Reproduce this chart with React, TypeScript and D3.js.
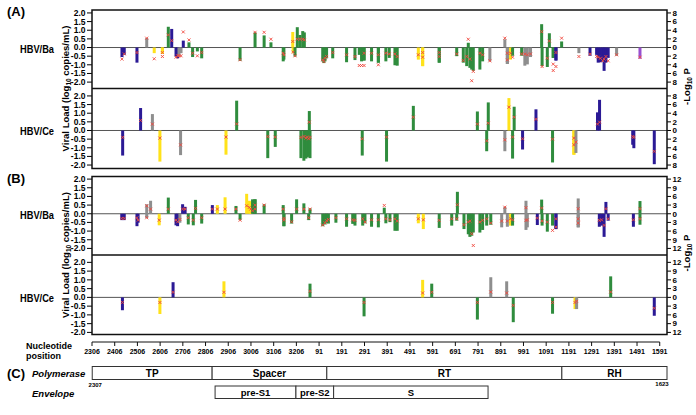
import React from "react";
import * as d3 from "d3";

type Row = [number, number, number, string]; // [nucleotide, signed -log10 P, viral load diff, category]

// Panel A, HBV/Ba
const aBa: Row[] = [
  [2438, -2.2, -0.67, "b"], [2448, -1.7, -0.37, "b"], [2504, -3.5, -0.29, "b"], [2547, 2.2, 0.54, "k"],
  [2580, -1.3, -0.65, "y"], [2616, -1.5, -0.29, "y"], [2616, -1.5, -0.52, "y"], [2642, 4.8, 0.73, "g"],
  [2657, 4.3, 0.4, "b"], [2676, -2.1, -0.56, "b"], [2683, -2.5, -0.48, "b"], [2689, -2.1, -0.48, "k"],
  [2698, -1.3, -0.48, "k"], [2708, 1.6, 0.9, "b"], [2733, 1.2, 0.44, "g"], [2749, -2.2, -0.33, "g"],
  [2770, -0.9, -0.48, "g"], [2789, -2.5, -0.29, "g"], [2958, -3.1, -0.71, "g"], [3024, 3.5, 0.88, "g"],
  [3064, 2.8, 0.88, "g"], [3094, 1.2, 0.48, "g"], [3148, -3.2, -0.33, "g"], [3151, -2.8, -0.42, "g"],
  [3190, 3.6, 0.35, "y"], [3192, -1.3, -0.27, "y"], [3200, -2.1, -0.48, "g"], [3210, 4.7, 0.48, "g"],
  [7, 2.9, 0.48, "g"], [19, 3.8, 0.48, "g"], [26, 3.5, 0.44, "g"], [107, -3.2, -0.71, "g"],
  [112, -3.6, -0.81, "g"], [117, -3.2, -0.62, "g"], [124, -2.5, -0.52, "g"], [151, -2.5, -0.29, "g"],
  [212, -3.4, -0.42, "g"], [249, -2.9, -0.52, "g"], [268, -1.7, -1.04, "g"], [278, -3.2, -1.04, "g"],
  [289, -3.0, -1.04, "g"], [289, -3.0, -0.33, "g"], [322, -3.2, -0.33, "g"], [352, -3.5, -1.0, "g"],
  [352, -3.5, -0.42, "g"], [385, -3.2, -0.33, "g"], [400, -2.4, -0.37, "g"], [425, -4.1, -0.37, "g"],
  [435, -4.2, -0.52, "g"], [528, -2.8, -0.42, "y"], [547, -4.3, -0.29, "y"], [547, -4.3, -0.56, "y"],
  [620, -3.5, -0.29, "g"], [620, -3.5, -0.52, "g"], [697, -2.0, -0.37, "g"], [726, -3.5, -0.75, "g"],
  [741, -4.3, -0.52, "g"], [748, 1.1, 0.48, "g"], [755, -4.7, -0.67, "g"], [763, -5.1, -1.92, "g"],
  [770, -5.4, -1.38, "g"], [799, -5.1, -0.33, "g"], [811, -3.2, -0.42, "g"], [843, -3.2, -0.77, "k"],
  [909, 1.9, 0.54, "k"], [920, -3.8, -0.33, "k"], [920, -3.8, -0.71, "k"], [934, -2.8, -0.33, "y"],
  [943, -1.9, -0.56, "g"], [983, -1.9, -0.37, "g"], [997, -4.2, -0.38, "k"], [1008, -3.9, -0.42, "k"],
  [1022, -2.2, -0.37, "k"], [1071, 5.4, 0.92, "g"], [1073, -4.3, -1.1, "g"], [1096, -4.5, -0.62, "g"],
  [1105, 3.3, 0.38, "g"], [1122, -2.4, -0.96, "g"], [1122, -2.4, -1.33, "g"], [1134, -3.0, -0.29, "b"],
  [1134, -3.0, -1.1, "b"], [1159, 1.4, 0.54, "g"], [1235, -1.3, -0.52, "k"], [1284, -1.9, -0.38, "b"],
  [1313, -1.7, -0.52, "b"], [1320, -3.5, -0.56, "b"], [1330, -3.4, -0.62, "b"], [1340, -3.2, -0.77, "b"],
  [1346, -5.4, -0.67, "b"], [1354, -3.5, -0.52, "b"], [1364, -2.4, -0.77, "b"], [1401, -1.9, -0.42, "k"],
  [1504, -2.6, -0.56, "p"],
];

// Panel A, HBV/Ce
const aCe: Row[] = [
  [2441, -5.8, -0.4, "b"], [2520, 5.2, 0.58, "b"], [2572, 3.8, 0.37, "k"], [2605, -7.2, -0.44, "y"],
  [2696, -5.7, -0.83, "k"], [2896, -5.6, -0.38, "y"], [2943, 6.9, 0.38, "g"], [3080, -6.4, -0.35, "g"],
  [3113, -3.8, -0.38, "g"], [11, -6.4, -0.4, "g"], [24, -7.0, -0.35, "g"], [33, -6.5, -0.44, "g"],
  [39, -6.2, -0.38, "g"], [45, -6.0, -0.48, "g"], [51, -6.4, -0.4, "g"], [48, 4.5, 0.48, "g"],
  [281, -5.8, -0.48, "g"], [388, -7.2, -0.38, "g"], [506, 5.7, 0.77, "g"], [788, 4.4, 0.37, "g"],
  [829, -4.8, -0.6, "g"], [836, 6.5, 0.42, "g"], [909, -4.8, -0.54, "k"], [927, 7.5, 1.35, "y"],
  [943, -6.5, -0.38, "g"], [950, 5.5, 0.77, "g"], [987, -4.4, -0.48, "b"], [1046, 4.9, 0.65, "b"],
  [1119, -7.4, -0.5, "g"], [1213, -5.6, -0.44, "y"], [1213, -5.6, -0.83, "y"], [1222, -5.2, -0.67, "k"],
  [1317, 4.2, 0.37, "b"], [1326, 7.1, 0.48, "b"], [1472, -3.3, -0.35, "b"], [1477, -4.1, -0.4, "b"],
  [1567, -7.8, -1.21, "b"],
];

// Panel B, HBV/Ba
const bBa: Row[] = [
  [2437, -2.2, -0.27, "b"], [2448, -2.2, -0.27, "b"], [2504, -4.3, -0.23, "b"], [2509, -3.1, -0.37, "b"],
  [2547, 3.3, 0.46, "k"], [2547, -1.5, -0.23, "k"], [2564, 4.5, 0.27, "k"], [2602, -4.0, -0.37, "y"],
  [2642, 5.6, 0.27, "g"], [2676, -4.0, -0.37, "b"], [2683, -4.3, -0.46, "b"], [2693, -3.1, -0.33, "k"],
  [2705, 3.3, 0.27, "b"], [2716, 2.4, 0.27, "b"], [2730, -3.7, -0.23, "g"], [2752, -4.0, -0.37, "g"],
  [2762, 4.8, 0.31, "g"], [2789, -3.4, -0.23, "g"], [2836, 3.0, 0.27, "b"], [2858, 3.0, 0.27, "y"],
  [2892, 5.7, 0.27, "y"], [2940, 2.7, 0.27, "g"], [2958, -2.2, -0.37, "g"], [2987, 6.9, 0.46, "y"],
  [2999, 4.5, 0.37, "y"], [3005, 4.0, 0.27, "y"], [3013, 5.0, 0.17, "g"], [3024, 5.0, 0.27, "g"],
  [3024, 5.0, 0.5, "g"], [3064, 3.3, 0.5, "g"], [3148, 3.0, 0.27, "g"], [3151, -4.3, -0.37, "g"],
  [3151, -4.3, -0.27, "g"], [3185, -3.4, -0.46, "g"], [3207, 5.0, 0.27, "g"], [24, 3.6, 0.27, "g"],
  [45, -2.2, -0.23, "g"], [51, 1.9, 0.27, "g"], [107, -4.3, -0.65, "g"], [117, -3.7, -0.52, "g"],
  [124, -3.1, -0.4, "g"], [132, -3.4, -0.33, "g"], [165, -3.1, -0.23, "g"], [212, -4.5, -0.29, "g"],
  [239, -3.5, -0.35, "g"], [249, -4.1, -0.38, "g"], [283, -4.1, -0.29, "g"], [293, -3.3, -0.48, "g"],
  [322, -4.5, -0.35, "g"], [352, -4.7, -0.35, "g"], [378, 2.1, 0.48, "g"], [385, -3.3, -0.29, "g"],
  [403, -2.9, -0.35, "g"], [425, -5.9, -0.29, "g"], [435, -5.9, -0.42, "g"], [528, -3.3, -0.29, "y"],
  [550, -5.3, -0.35, "y"], [620, -4.9, -0.38, "g"], [675, -4.1, -0.29, "g"], [697, -2.4, -0.29, "g"],
  [700, 7.6, 0.52, "g"], [729, -5.3, -0.63, "g"], [748, -7.1, -0.48, "g"], [755, -8.0, -0.42, "g"],
  [763, -7.6, -1.15, "g"], [770, -6.5, -1.83, "g"], [799, -6.5, -0.48, "g"], [811, -5.6, -0.38, "g"],
  [829, -4.1, -0.29, "g"], [847, -3.8, -0.54, "g"], [895, -4.7, -0.42, "k"], [909, 2.4, 0.38, "k"],
  [920, -4.5, -0.42, "k"], [934, -4.1, -0.29, "y"], [943, -4.1, -0.35, "g"], [1002, 4.5, 0.35, "k"],
  [1002, -5.6, -0.38, "k"], [1008, -4.7, -0.35, "k"], [1052, -3.9, -0.25, "b"], [1071, 4.9, 0.33, "g"],
  [1073, -4.1, -0.42, "g"], [1096, -6.2, -0.48, "g"], [1119, -4.1, -0.96, "g"], [1134, -5.3, -0.29, "b"],
  [1134, -5.3, -0.77, "b"], [1232, 5.3, 0.29, "k"], [1232, -4.7, -0.29, "k"], [1232, -4.7, -0.54, "k"],
  [1325, -4.5, -0.38, "b"], [1335, -4.1, -0.35, "b"], [1346, -8.0, -0.67, "b"], [1354, 4.1, 0.29, "b"],
  [1364, -2.4, -0.29, "b"], [1475, -4.5, -0.35, "b"], [1504, 4.4, 0.29, "g"], [1504, -3.8, -0.29, "g"],
];

// Panel B, HBV/Ce
const bCe: Row[] = [
  [2440, -4.4, -0.29, "b"], [2605, -5.7, -0.29, "y"], [2663, 5.2, 0.29, "b"], [2887, 5.5, 0.29, "y"],
  [51, 4.7, 0.35, "g"], [289, -6.5, -0.29, "g"], [547, 6.0, 0.25, "y"], [587, 4.7, 0.29, "g"],
  [788, -7.6, -0.29, "g"], [847, 6.9, 0.31, "k"], [917, 5.5, 0.25, "k"], [946, -8.5, -0.46, "g"],
  [1119, -5.6, -0.29, "g"], [1218, -4.0, -0.29, "y"], [1225, -4.0, -0.23, "k"], [1375, 7.2, 0.31, "g"],
  [1567, -6.3, -0.62, "b"],
];

const xTickLabels = [2306, 2406, 2506, 2606, 2706, 2806, 2906, 3006, 3106, 3206, 91, 191, 291, 391, 491, 591, 691, 791, 891, 991, 1091, 1191, 1291, 1391, 1491, 1591];
const vlTicks = [-2, -1.5, -1, -0.5, 0, 0.5, 1, 1.5, 2];
const pTicksA = [-8, -6, -4, -2, 0, 2, 4, 6, 8];
const pTicksB = [-12, -9, -6, -3, 0, 3, 6, 9, 12];

const polymeraseDomains: [string, number, number][] = [["TP", 2307, 2835], ["Spacer", 2835, 125], ["RT", 125, 1160], ["RH", 1160, 1623]];
const envelopeDomains: [string, number, number][] = [["pre-S1", 2848, 3204], ["pre-S2", 3204, 155], ["S", 155, 835]];

const GENOME = 3215;
const ORIGIN = 2306;
const pos = (nt: number) => (nt >= ORIGIN ? nt - ORIGIN : nt + GENOME - ORIGIN);

const COLORS: Record<string, string> = {
  g: "#2f8c3d",
  b: "#2b1a95",
  k: "#8e8e8e",
  y: "#ffe21a",
  p: "#9850d0",
};
const RED = "#f04a40";
const FONT = "'Liberation Sans', Arial, Helvetica, sans-serif";

const x = d3.scaleLinear().domain([0, pos(1623)]).range([92, 667]);

const subPanels = [
  { name: "HBV/Ba", top: 10, bottom: 88.5, dom: [-2.37, 2.17], data: aBa, factor: 4, pTicks: pTicksA },
  { name: "HBV/Ce", top: 88.5, bottom: 168.5, dom: [-2.2, 2.43], data: aCe, factor: 4, pTicks: pTicksA },
  { name: "HBV/Ba", top: 176.5, bottom: 255, dom: [-2.38, 2.15], data: bBa, factor: 6, pTicks: pTicksB },
  { name: "HBV/Ce", top: 255, bottom: 334.5, dom: [-2.12, 2.42], data: bCe, factor: 6, pTicks: pTicksB },
];

const panelFrames = [
  { label: "(A)", top: 10, mid: 88.5, bottom: 168.5, labelY: 16 },
  { label: "(B)", top: 176.5, mid: 255, bottom: 334.5, labelY: 182.5 },
];

function SubPanel({ sp }: { sp: (typeof subPanels)[number] }) {
  const y = d3.scaleLinear().domain(sp.dom).range([sp.bottom, sp.top]);
  const y0 = y(0);
  return (
    <g>
      <line x1={92} x2={667} y1={y0} y2={y0} stroke="#555" strokeWidth={1} />
      {sp.data.map((d, i) => {
        const cx = x(pos(d[0]));
        const y1 = y(d[1] / sp.factor);
        return (
          <rect key={"b" + i} x={cx - 1.5} width={3} y={Math.min(y0, y1)} height={Math.abs(y1 - y0)} fill={COLORS[d[3]]} />
        );
      })}
      {sp.data.map((d, i) => {
        const cx = x(pos(d[0]));
        const cy = y(d[2]);
        const s = 1.5;
        return (
          <path key={"m" + i} d={`M${cx - s},${cy - s}L${cx + s},${cy + s}M${cx - s},${cy + s}L${cx + s},${cy - s}`} stroke={RED} strokeWidth={0.9} />
        );
      })}
      {vlTicks.map((t) => (
        <g key={"l" + t}>
          <line x1={87} x2={92} y1={y(t)} y2={y(t)} stroke="#000" strokeWidth={1} />
          <text x={85.5} y={y(t)} dy="0.35em" textAnchor="end" fontSize={8.5} fontWeight="bold" fontFamily={FONT}>
            {t.toFixed(1)}
          </text>
        </g>
      ))}
      {sp.pTicks.map((t) => (
        <g key={"r" + t}>
          <line x1={667} x2={671} y1={y(t / sp.factor)} y2={y(t / sp.factor)} stroke="#000" strokeWidth={1} />
          <text x={672.5} y={y(t / sp.factor)} dy="0.35em" fontSize={8} fontWeight="bold" fontFamily={FONT}>
            {Math.abs(t)}
          </text>
        </g>
      ))}
      <text x={20} y={y0 + 5} fontSize={11.5} fontWeight="bold" fontFamily={FONT} textLength={34} lengthAdjust="spacingAndGlyphs">
        {sp.name}
      </text>
    </g>
  );
}

export default function App() {
  return (
    <svg width={696} height={415} style={{ position: "absolute", left: 0, top: 0, background: "#fff" }}>
      <rect x={0} y={0} width={696} height={415} fill="#fff" />
      {subPanels.map((sp, i) => (
        <SubPanel key={i} sp={sp} />
      ))}
      {panelFrames.map((p) => (
        <g key={p.label}>
          <rect x={92} y={p.top} width={575} height={p.bottom - p.top} fill="none" stroke="#111" strokeWidth={1.5} />
          <line x1={92} x2={667} y1={p.mid} y2={p.mid} stroke="#111" strokeWidth={1.5} />
          <text x={7} y={p.labelY} fontSize={13} fontWeight="bold" fontFamily={FONT}>
            {p.label}
          </text>
          <text transform={`translate(68.5,${p.mid}) rotate(-90)`} textAnchor="middle" fontSize={9.5} fontWeight="bold" fontFamily={FONT}>
            Viral Load (log<tspan fontSize={6.5} dy={2}>10</tspan>
            <tspan dy={-2}> copies/mL)</tspan>
          </text>
          <text transform={`translate(690,${p.mid - 2}) rotate(-90)`} textAnchor="middle" fontSize={9.5} fontWeight="bold" fontFamily={FONT}>
            -Log<tspan fontSize={6.5} dy={2}>10</tspan>
            <tspan dy={-2}> P</tspan>
          </text>
        </g>
      ))}
      {/* nucleotide axis */}
      <line x1={x(0)} x2={x(pos(1591))} y1={342} y2={342} stroke="#111" strokeWidth={1} />
      {xTickLabels.map((t) => (
        <g key={"x" + t}>
          <line x1={x(pos(t))} x2={x(pos(t))} y1={342} y2={346} stroke="#111" strokeWidth={1} />
          <text x={x(pos(t))} y={353.5} textAnchor="middle" fontSize={7} fontWeight="bold" fontFamily={FONT}>
            {t}
          </text>
        </g>
      ))}
      <text x={26} y={349} fontSize={9} fontWeight="bold" fontFamily={FONT}>Nucleotide</text>
      <text x={26} y={358.5} fontSize={9} fontWeight="bold" fontFamily={FONT}>position</text>
      {/* (C) genome map */}
      <text x={7} y={377.5} fontSize={13} fontWeight="bold" fontFamily={FONT}>(C)</text>
      <text x={32} y={376.5} fontSize={9.5} fontWeight="bold" fontStyle="italic" fontFamily={FONT}>Polymerase</text>
      <text x={32} y={396.5} fontSize={9.5} fontWeight="bold" fontStyle="italic" fontFamily={FONT}>Envelope</text>
      {polymeraseDomains.map(([name, s, e]) => (
        <g key={name}>
          <rect x={x(pos(s))} y={366.5} width={x(pos(e)) - x(pos(s))} height={13} fill="#fff" stroke="#333" strokeWidth={1} />
          <text x={(x(pos(s)) + x(pos(e))) / 2} y={376.5} textAnchor="middle" fontSize={10} fontWeight="bold" fontFamily={FONT}>{name}</text>
        </g>
      ))}
      {envelopeDomains.map(([name, s, e]) => (
        <g key={name}>
          <rect x={x(pos(s))} y={386} width={x(pos(e)) - x(pos(s))} height={12.5} fill="#fff" stroke="#333" strokeWidth={1} />
          <text x={(x(pos(s)) + x(pos(e))) / 2} y={395.8} textAnchor="middle" fontSize={9.5} fontWeight="bold" fontFamily={FONT}>{name}</text>
        </g>
      ))}
      <text x={x(pos(2307)) + 3} y={387} textAnchor="middle" fontSize={6} fontWeight="bold" fontFamily={FONT}>2307</text>
      <text x={x(pos(1623)) - 5} y={386} textAnchor="middle" fontSize={6} fontWeight="bold" fontFamily={FONT}>1623</text>
    </svg>
  );
}
